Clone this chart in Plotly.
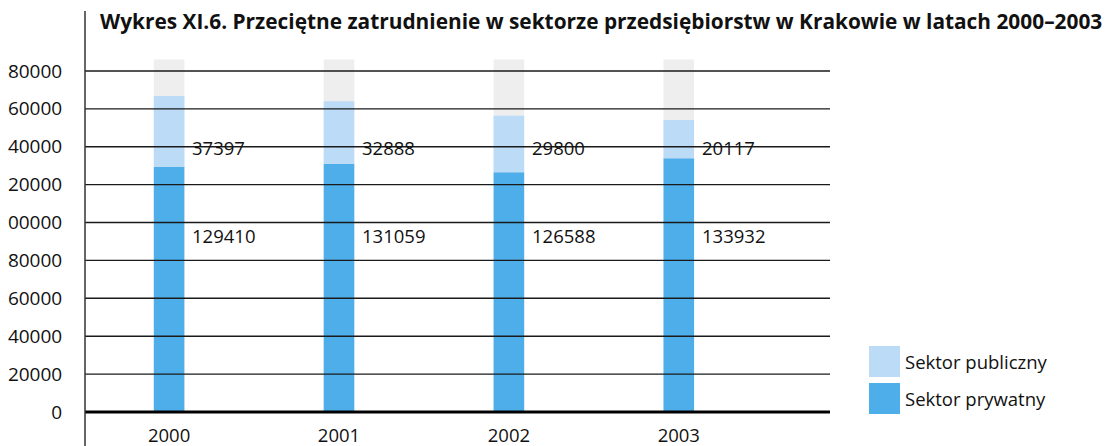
import plotly.graph_objects as go

YEARS = [2000, 2001, 2002, 2003]
PRIVATE = [129410, 131059, 126588, 133932]
PUBLIC = [37397, 32888, 29800, 20117]
BACKGROUND = [186000, 186000, 186000, 186000]
TICK_VALUES = [0, 20000, 40000, 60000, 80000, 100000, 120000, 140000, 160000, 180000]
TICK_LABELS = ["0", "20000", "40000", "60000", "80000", "00000", "20000", "40000", "60000", "80000"]
SERIES_NAMES = ["Sektor publiczny", "Sektor prywatny"]
TITLE = "Wykres XI.6. Przeciętne zatrudnienie w sektorze przedsiębiorstw w Krakowie w latach 2000–2003"
LABEL_Y_PUBLIC = 139500
LABEL_Y_PRIVATE = 93000

C_PRIV = "#4daeea"
C_PUB = "#bcdbf6"
C_BG = "#eeeeee"
FONT = "Open Sans"
TXT = "#111111"

# The page body has an 8px default margin; figure coordinates are page coordinates minus 8.
FIG_W, FIG_H = 1105, 438
L, R, T, B = 77, 283, 44, 34
PW = FIG_W - L - R  # 745
PH = FIG_H - T - B  # 360
PX0, PY0 = 85, 412  # page coords of plot's left/bottom


def px(xpage):
    return (xpage - PX0) / PW


def py(ypage):
    return (PY0 - ypage) / PH


fig = go.Figure()
W = 0.18
fig.add_bar(x=YEARS, y=BACKGROUND, width=W, marker=dict(color=C_BG, line_width=0),
            showlegend=False, hoverinfo="skip")
fig.add_bar(x=YEARS, y=PRIVATE, base=[0] * len(YEARS), width=W, name=SERIES_NAMES[1],
            marker=dict(color=C_PRIV, line_width=0), showlegend=False)
fig.add_bar(x=YEARS, y=PUBLIC, base=PRIVATE, width=W, name=SERIES_NAMES[0],
            marker=dict(color=C_PUB, line_width=0), showlegend=False)

shapes = []
for v in TICK_VALUES[1:]:
    shapes.append(dict(type="line", xref="paper", yref="y", x0=0, x1=1, y0=v, y1=v,
                       line=dict(color="#1a1a1a", width=1.4), layer="above"))
# thick baseline
shapes.append(dict(type="line", xref="paper", yref="paper", x0=0, x1=1, y0=0, y1=0,
                   line=dict(color="#000000", width=3), layer="above"))
# vertical axis line extending beyond plot
shapes.append(dict(type="line", xref="paper", yref="paper", x0=0, x1=0, y0=py(446), y1=py(11),
                   line=dict(color="#333333", width=1.5), layer="above"))

annotations = []
for yr, pub, prv in zip(YEARS, PUBLIC, PRIVATE):
    for val, yv in ((pub, LABEL_Y_PUBLIC), (prv, LABEL_Y_PRIVATE)):
        annotations.append(dict(x=yr + 0.122, y=yv, xref="x", yref="y", text=str(val),
                                showarrow=False, xanchor="left", yanchor="middle",
                                font=dict(family=FONT, size=18.5, color=TXT)))

# custom legend
leg = [(SERIES_NAMES[0], C_PUB, 346), (SERIES_NAMES[1], C_PRIV, 383)]
for name, col, ytop in leg:
    shapes.append(dict(type="rect", xref="paper", yref="paper",
                       x0=px(869), x1=px(900), y0=py(ytop + 31), y1=py(ytop),
                       fillcolor=col, line_width=0))
    annotations.append(dict(x=px(903), y=py(ytop + 15.5), xref="paper", yref="paper",
                            text=name, showarrow=False, xanchor="left", yanchor="middle",
                            font=dict(family=FONT, size=18.5, color=TXT)))

fig.update_layout(
    width=FIG_W, height=FIG_H,
    margin=dict(l=L, r=R, t=T, b=B, pad=0),
    paper_bgcolor="white", plot_bgcolor="white",
    barmode="overlay",
    title=dict(text="<b>" + TITLE + "</b>", xref="container", yref="container",
               x=(100 - 8) / FIG_W, xanchor="left", y=1 - (22 - 8) / FIG_H, yanchor="middle",
               font=dict(family=FONT, size=20.85, color=TXT)),
    xaxis=dict(range=[1999.505, 2003.89], tickvals=YEARS, ticktext=[str(y) for y in YEARS],
               showgrid=False, zeroline=False, showline=False, ticks="outside", ticklen=7,
               tickcolor="rgba(0,0,0,0)", automargin=False,
               tickfont=dict(family=FONT, size=18.5, color=TXT)),
    yaxis=dict(range=[0, 190000], tickvals=TICK_VALUES, ticktext=TICK_LABELS,
               showgrid=False, zeroline=False, showline=False, ticks="outside", ticklen=18,
               tickcolor="rgba(0,0,0,0)", automargin=False,
               tickfont=dict(family=FONT, size=19, color=TXT)),
    shapes=shapes, annotations=annotations, showlegend=False,
)

fig.write_html("out.html")
